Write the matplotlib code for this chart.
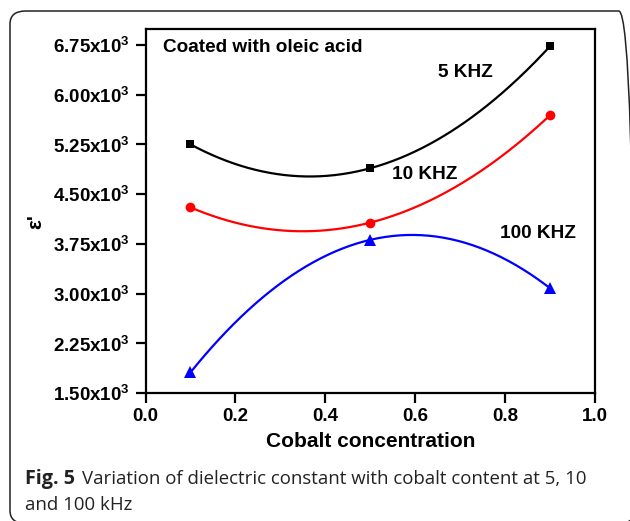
import numpy as np
import matplotlib
matplotlib.use('Agg')
import matplotlib.pyplot as plt
from matplotlib.patches import FancyBboxPatch

plt.rcParams['font.family'] = 'Liberation Sans'
plt.rcParams['font.weight'] = 'bold'
plt.rcParams['mathtext.fontset'] = 'custom'
plt.rcParams['mathtext.rm'] = 'Liberation Sans:bold'
plt.rcParams['mathtext.bf'] = 'Liberation Sans:bold'

# cobalt content and permittivity (x10^3) at each frequency
cobalt = [0.1, 0.5, 0.9]
eps_5k = [5.25, 4.89, 6.73]
eps_10k = [4.30, 4.07, 5.69]
eps_100k = [1.81, 3.81, 3.08]

xticks = [0.0, 0.2, 0.4, 0.6, 0.8, 1.0]
yticks = [1.50, 2.25, 3.00, 3.75, 4.50, 5.25, 6.00, 6.75]

fig = plt.figure(figsize=(6.3, 5.21), dpi=100)
W, H = 630, 521

# rounded frame round the whole figure (right and bottom edges run off the canvas)
frame = FancyBboxPatch((10 / W, -2.5 / H), 624.5 / W, 1 - 8.5 / H,
                       boxstyle='round,pad=0,rounding_size=0.025',
                       transform=fig.transFigure, fill=False,
                       edgecolor='#222222', linewidth=1.1)
fig.patches.append(frame)

ax = fig.add_axes([145.5 / W, 1 - 393 / H, 449.5 / W, 364 / H])

series = [(eps_5k, 'black', 's', 6),
          (eps_10k, 'red', 'o', 7),
          (eps_100k, 'blue', '^', 8)]
xs = np.linspace(cobalt[0], cobalt[-1], 200)
for vals, col, mk, ms in series:
    coef = np.polyfit(cobalt, vals, 2)
    ax.plot(xs, np.polyval(coef, xs), color=col, linewidth=1.6)
    ax.plot(cobalt, vals, linestyle='none', marker=mk, color=col,
            markersize=ms, markeredgewidth=0)

ax.set_xlim(0.0, 1.0)
ax.set_ylim(1.5, 6.99)
ax.set_xticks(xticks)
ax.set_xticklabels(['%.1f' % v for v in xticks])
ax.set_yticks(yticks)
ax.set_yticklabels(['%.2fx10$^3$' % v for v in yticks])
ax.tick_params(direction='out', length=7, width=1.6, labelsize=13.5, pad=4)
for sp in ax.spines.values():
    sp.set_linewidth(1.6)

ax.set_xlabel('Cobalt concentration', fontsize=15, fontweight='bold', labelpad=5)
ax.set_ylabel("\u03b5'", fontsize=15, fontweight='bold')
ax.yaxis.set_label_coords(-0.222, 0.47)

ax.text(0.038, 6.71, 'Coated with oleic acid', fontsize=13.7, va='center')
ax.text(0.65, 6.33, '5 KHZ', fontsize=13.7, va='center')
ax.text(0.548, 4.79, '10 KHZ', fontsize=13.7, va='center')
ax.text(0.789, 3.91, '100 KHZ', fontsize=13.7, va='center')

cap = dict(fontsize=13.4, family='Open Sans', color='#222222', va='center')
fig.text(25 / W, 1 - 479 / H, 'Fig. 5', fontweight='bold', fontsize=14.2,
         family='Open Sans', color='#222222', va='center')
fig.text(82 / W, 1 - 479 / H,
         'Variation of dielectric constant with cobalt content at 5, 10',
         fontweight='normal', **cap)
fig.text(25 / W, 1 - 505 / H, 'and 100 kHz', fontweight='normal', **cap)

fig.savefig('out.png', dpi=100)
